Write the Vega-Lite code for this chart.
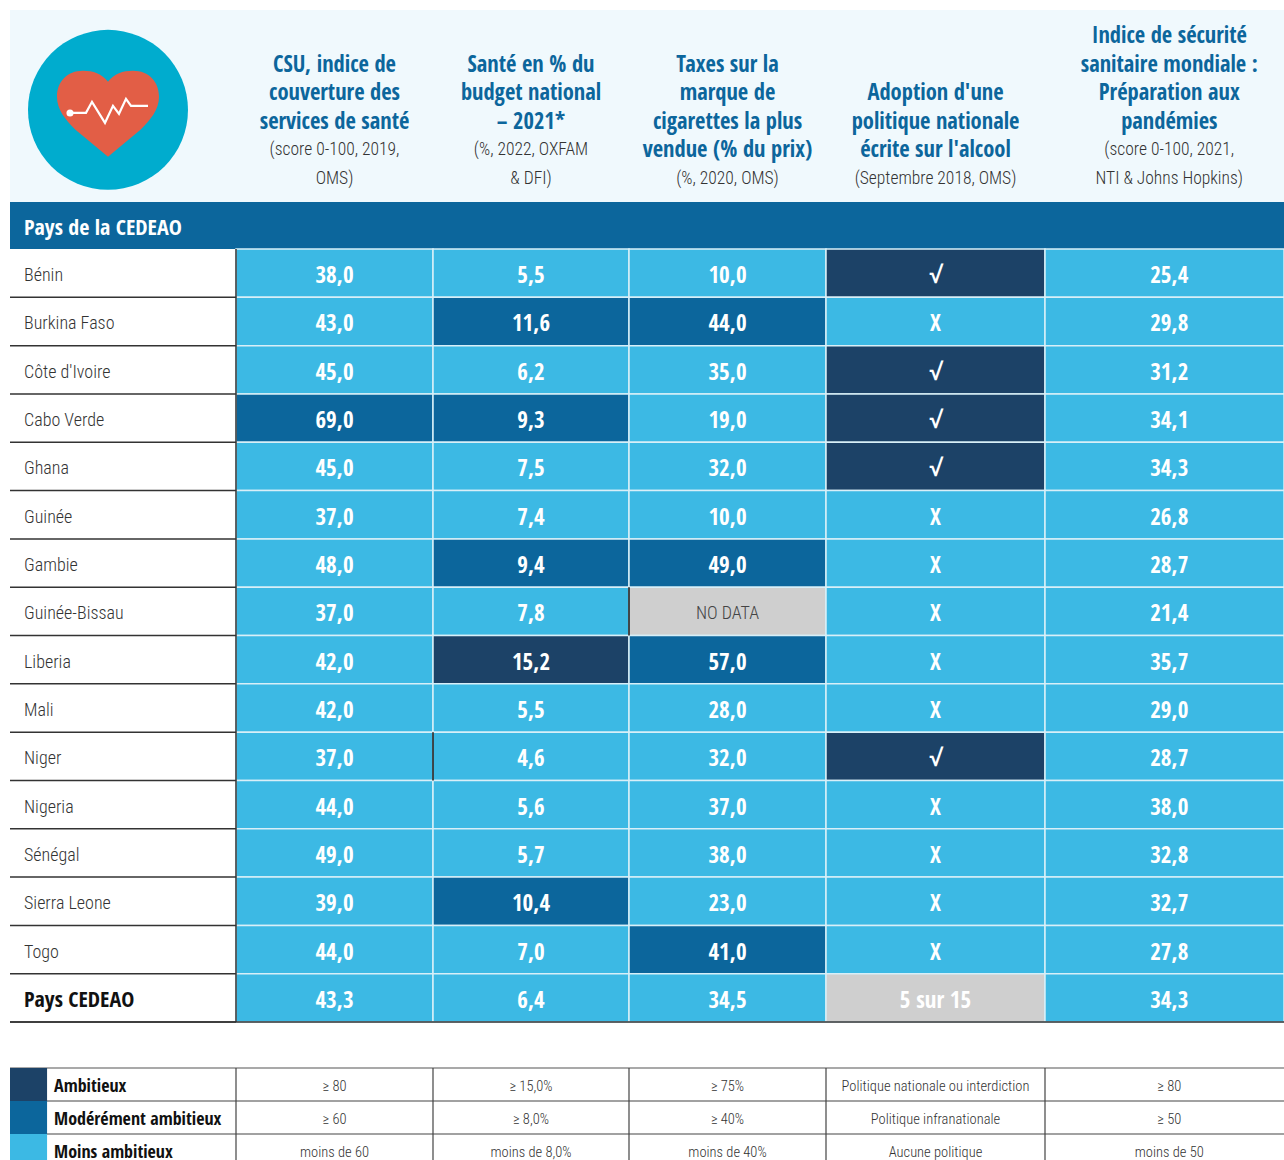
{
"$schema":"https://vega.github.io/schema/vega-lite/v6.json",
"width":1284,"height":1160,"padding":0,"autosize":{"type":"none"},"background":"white",
"config":{"view":{"stroke":null},"axis":{"disable":true},"legend":{"disable":true},"text":{"font":"Roboto Condensed"}},
"datasets":{
"colonnes":[
{"indicateur":"CSU","c0":1,"c1":2,"cm":1.5},
{"indicateur":"Santé","c0":2,"c1":3,"cm":2.5},
{"indicateur":"Taxes","c0":3,"c1":4,"cm":3.5},
{"indicateur":"Alcool","c0":4,"c1":5,"cm":4.5},
{"indicateur":"Sécurité","c0":5,"c1":6,"cm":5.52}
],
"rangs":[{"rang":1,"h":0.135},{"rang":2,"h":0.284},{"rang":3,"h":0.433},{"rang":4,"h":0.582},{"rang":5,"h":0.731},{"rang":6,"h":0.88}],
"entetes":[
{"indicateur":"CSU","rang":2,"style":"titre","texte":"CSU, indice de"},
{"indicateur":"CSU","rang":3,"style":"titre","texte":"couverture des"},
{"indicateur":"CSU","rang":4,"style":"titre","texte":"services de santé"},
{"indicateur":"CSU","rang":5,"style":"source","texte":"(score 0-100, 2019,"},
{"indicateur":"CSU","rang":6,"style":"source","texte":"OMS)"},
{"indicateur":"Santé","rang":2,"style":"titre","texte":"Santé en % du"},
{"indicateur":"Santé","rang":3,"style":"titre","texte":"budget national"},
{"indicateur":"Santé","rang":4,"style":"titre","texte":"– 2021*"},
{"indicateur":"Santé","rang":5,"style":"source","texte":"(%, 2022, OXFAM"},
{"indicateur":"Santé","rang":6,"style":"source","texte":"& DFI)"},
{"indicateur":"Taxes","rang":2,"style":"titre","texte":"Taxes sur la"},
{"indicateur":"Taxes","rang":3,"style":"titre","texte":"marque de"},
{"indicateur":"Taxes","rang":4,"style":"titre","texte":"cigarettes la plus"},
{"indicateur":"Taxes","rang":5,"style":"titre","texte":"vendue (% du prix)"},
{"indicateur":"Taxes","rang":6,"style":"source","texte":"(%, 2020, OMS)"},
{"indicateur":"Alcool","rang":3,"style":"titre","texte":"Adoption d'une"},
{"indicateur":"Alcool","rang":4,"style":"titre","texte":"politique nationale"},
{"indicateur":"Alcool","rang":5,"style":"titre","texte":"écrite sur l'alcool"},
{"indicateur":"Alcool","rang":6,"style":"source","texte":"(Septembre 2018, OMS)"},
{"indicateur":"Sécurité","rang":1,"style":"titre","texte":"Indice de sécurité"},
{"indicateur":"Sécurité","rang":2,"style":"titre","texte":"sanitaire mondiale :"},
{"indicateur":"Sécurité","rang":3,"style":"titre","texte":"Préparation aux"},
{"indicateur":"Sécurité","rang":4,"style":"titre","texte":"pandémies"},
{"indicateur":"Sécurité","rang":5,"style":"source","texte":"(score 0-100, 2021,"},
{"indicateur":"Sécurité","rang":6,"style":"source","texte":"NTI & Johns Hopkins)"}
],
"lignes":[
{"pays":"Bénin","groupe":"pays","l0":2,"l1":3,"lm":2.5},
{"pays":"Burkina Faso","groupe":"pays","l0":3,"l1":4,"lm":3.5},
{"pays":"Côte d'Ivoire","groupe":"pays","l0":4,"l1":5,"lm":4.5},
{"pays":"Cabo Verde","groupe":"pays","l0":5,"l1":6,"lm":5.5},
{"pays":"Ghana","groupe":"pays","l0":6,"l1":7,"lm":6.5},
{"pays":"Guinée","groupe":"pays","l0":7,"l1":8,"lm":7.5},
{"pays":"Gambie","groupe":"pays","l0":8,"l1":9,"lm":8.5},
{"pays":"Guinée-Bissau","groupe":"pays","l0":9,"l1":10,"lm":9.5},
{"pays":"Liberia","groupe":"pays","l0":10,"l1":11,"lm":10.5},
{"pays":"Mali","groupe":"pays","l0":11,"l1":12,"lm":11.5},
{"pays":"Niger","groupe":"pays","l0":12,"l1":13,"lm":12.5},
{"pays":"Nigeria","groupe":"pays","l0":13,"l1":14,"lm":13.5},
{"pays":"Sénégal","groupe":"pays","l0":14,"l1":15,"lm":14.5},
{"pays":"Sierra Leone","groupe":"pays","l0":15,"l1":16,"lm":15.5},
{"pays":"Togo","groupe":"pays","l0":16,"l1":17,"lm":16.5},
{"pays":"Pays CEDEAO","groupe":"total","l0":17,"l1":18,"lm":17.5},
{"pays":"Ambitieux","groupe":"cle","l0":19,"l1":20,"lm":19.5},
{"pays":"Modérément ambitieux","groupe":"cle","l0":20,"l1":21,"lm":20.5},
{"pays":"Moins ambitieux","groupe":"cle","l0":21,"l1":22,"lm":21.5}
],
"filets":[{"pays":"Niger","indicateur":"Santé"},{"pays":"Guinée-Bissau","indicateur":"Taxes"}],
"legende":[
{"pays":"Ambitieux","indicateur":"CSU","texte":"≥ 80"},
{"pays":"Ambitieux","indicateur":"Santé","texte":"≥ 15,0%"},
{"pays":"Ambitieux","indicateur":"Taxes","texte":"≥ 75%"},
{"pays":"Ambitieux","indicateur":"Alcool","texte":"Politique nationale ou interdiction"},
{"pays":"Ambitieux","indicateur":"Sécurité","texte":"≥ 80"},
{"pays":"Modérément ambitieux","indicateur":"CSU","texte":"≥ 60"},
{"pays":"Modérément ambitieux","indicateur":"Santé","texte":"≥ 8,0%"},
{"pays":"Modérément ambitieux","indicateur":"Taxes","texte":"≥ 40%"},
{"pays":"Modérément ambitieux","indicateur":"Alcool","texte":"Politique infranationale"},
{"pays":"Modérément ambitieux","indicateur":"Sécurité","texte":"≥ 50"},
{"pays":"Moins ambitieux","indicateur":"CSU","texte":"moins de 60"},
{"pays":"Moins ambitieux","indicateur":"Santé","texte":"moins de 8,0%"},
{"pays":"Moins ambitieux","indicateur":"Taxes","texte":"moins de 40%"},
{"pays":"Moins ambitieux","indicateur":"Alcool","texte":"Aucune politique"},
{"pays":"Moins ambitieux","indicateur":"Sécurité","texte":"moins de 50"}
],
"cellules":[
{"pays":"Bénin","indicateur":"CSU","valeur":"38,0","niveau":"Moins ambitieux"},
{"pays":"Bénin","indicateur":"Santé","valeur":"5,5","niveau":"Moins ambitieux"},
{"pays":"Bénin","indicateur":"Taxes","valeur":"10,0","niveau":"Moins ambitieux"},
{"pays":"Bénin","indicateur":"Alcool","valeur":"√","niveau":"Ambitieux"},
{"pays":"Bénin","indicateur":"Sécurité","valeur":"25,4","niveau":"Moins ambitieux"},
{"pays":"Burkina Faso","indicateur":"CSU","valeur":"43,0","niveau":"Moins ambitieux"},
{"pays":"Burkina Faso","indicateur":"Santé","valeur":"11,6","niveau":"Modérément ambitieux"},
{"pays":"Burkina Faso","indicateur":"Taxes","valeur":"44,0","niveau":"Modérément ambitieux"},
{"pays":"Burkina Faso","indicateur":"Alcool","valeur":"X","niveau":"Moins ambitieux"},
{"pays":"Burkina Faso","indicateur":"Sécurité","valeur":"29,8","niveau":"Moins ambitieux"},
{"pays":"Côte d'Ivoire","indicateur":"CSU","valeur":"45,0","niveau":"Moins ambitieux"},
{"pays":"Côte d'Ivoire","indicateur":"Santé","valeur":"6,2","niveau":"Moins ambitieux"},
{"pays":"Côte d'Ivoire","indicateur":"Taxes","valeur":"35,0","niveau":"Moins ambitieux"},
{"pays":"Côte d'Ivoire","indicateur":"Alcool","valeur":"√","niveau":"Ambitieux"},
{"pays":"Côte d'Ivoire","indicateur":"Sécurité","valeur":"31,2","niveau":"Moins ambitieux"},
{"pays":"Cabo Verde","indicateur":"CSU","valeur":"69,0","niveau":"Modérément ambitieux"},
{"pays":"Cabo Verde","indicateur":"Santé","valeur":"9,3","niveau":"Modérément ambitieux"},
{"pays":"Cabo Verde","indicateur":"Taxes","valeur":"19,0","niveau":"Moins ambitieux"},
{"pays":"Cabo Verde","indicateur":"Alcool","valeur":"√","niveau":"Ambitieux"},
{"pays":"Cabo Verde","indicateur":"Sécurité","valeur":"34,1","niveau":"Moins ambitieux"},
{"pays":"Ghana","indicateur":"CSU","valeur":"45,0","niveau":"Moins ambitieux"},
{"pays":"Ghana","indicateur":"Santé","valeur":"7,5","niveau":"Moins ambitieux"},
{"pays":"Ghana","indicateur":"Taxes","valeur":"32,0","niveau":"Moins ambitieux"},
{"pays":"Ghana","indicateur":"Alcool","valeur":"√","niveau":"Ambitieux"},
{"pays":"Ghana","indicateur":"Sécurité","valeur":"34,3","niveau":"Moins ambitieux"},
{"pays":"Guinée","indicateur":"CSU","valeur":"37,0","niveau":"Moins ambitieux"},
{"pays":"Guinée","indicateur":"Santé","valeur":"7,4","niveau":"Moins ambitieux"},
{"pays":"Guinée","indicateur":"Taxes","valeur":"10,0","niveau":"Moins ambitieux"},
{"pays":"Guinée","indicateur":"Alcool","valeur":"X","niveau":"Moins ambitieux"},
{"pays":"Guinée","indicateur":"Sécurité","valeur":"26,8","niveau":"Moins ambitieux"},
{"pays":"Gambie","indicateur":"CSU","valeur":"48,0","niveau":"Moins ambitieux"},
{"pays":"Gambie","indicateur":"Santé","valeur":"9,4","niveau":"Modérément ambitieux"},
{"pays":"Gambie","indicateur":"Taxes","valeur":"49,0","niveau":"Modérément ambitieux"},
{"pays":"Gambie","indicateur":"Alcool","valeur":"X","niveau":"Moins ambitieux"},
{"pays":"Gambie","indicateur":"Sécurité","valeur":"28,7","niveau":"Moins ambitieux"},
{"pays":"Guinée-Bissau","indicateur":"CSU","valeur":"37,0","niveau":"Moins ambitieux"},
{"pays":"Guinée-Bissau","indicateur":"Santé","valeur":"7,8","niveau":"Moins ambitieux"},
{"pays":"Guinée-Bissau","indicateur":"Taxes","valeur":"NO DATA","niveau":"Sans donnée"},
{"pays":"Guinée-Bissau","indicateur":"Alcool","valeur":"X","niveau":"Moins ambitieux"},
{"pays":"Guinée-Bissau","indicateur":"Sécurité","valeur":"21,4","niveau":"Moins ambitieux"},
{"pays":"Liberia","indicateur":"CSU","valeur":"42,0","niveau":"Moins ambitieux"},
{"pays":"Liberia","indicateur":"Santé","valeur":"15,2","niveau":"Ambitieux"},
{"pays":"Liberia","indicateur":"Taxes","valeur":"57,0","niveau":"Modérément ambitieux"},
{"pays":"Liberia","indicateur":"Alcool","valeur":"X","niveau":"Moins ambitieux"},
{"pays":"Liberia","indicateur":"Sécurité","valeur":"35,7","niveau":"Moins ambitieux"},
{"pays":"Mali","indicateur":"CSU","valeur":"42,0","niveau":"Moins ambitieux"},
{"pays":"Mali","indicateur":"Santé","valeur":"5,5","niveau":"Moins ambitieux"},
{"pays":"Mali","indicateur":"Taxes","valeur":"28,0","niveau":"Moins ambitieux"},
{"pays":"Mali","indicateur":"Alcool","valeur":"X","niveau":"Moins ambitieux"},
{"pays":"Mali","indicateur":"Sécurité","valeur":"29,0","niveau":"Moins ambitieux"},
{"pays":"Niger","indicateur":"CSU","valeur":"37,0","niveau":"Moins ambitieux"},
{"pays":"Niger","indicateur":"Santé","valeur":"4,6","niveau":"Moins ambitieux"},
{"pays":"Niger","indicateur":"Taxes","valeur":"32,0","niveau":"Moins ambitieux"},
{"pays":"Niger","indicateur":"Alcool","valeur":"√","niveau":"Ambitieux"},
{"pays":"Niger","indicateur":"Sécurité","valeur":"28,7","niveau":"Moins ambitieux"},
{"pays":"Nigeria","indicateur":"CSU","valeur":"44,0","niveau":"Moins ambitieux"},
{"pays":"Nigeria","indicateur":"Santé","valeur":"5,6","niveau":"Moins ambitieux"},
{"pays":"Nigeria","indicateur":"Taxes","valeur":"37,0","niveau":"Moins ambitieux"},
{"pays":"Nigeria","indicateur":"Alcool","valeur":"X","niveau":"Moins ambitieux"},
{"pays":"Nigeria","indicateur":"Sécurité","valeur":"38,0","niveau":"Moins ambitieux"},
{"pays":"Sénégal","indicateur":"CSU","valeur":"49,0","niveau":"Moins ambitieux"},
{"pays":"Sénégal","indicateur":"Santé","valeur":"5,7","niveau":"Moins ambitieux"},
{"pays":"Sénégal","indicateur":"Taxes","valeur":"38,0","niveau":"Moins ambitieux"},
{"pays":"Sénégal","indicateur":"Alcool","valeur":"X","niveau":"Moins ambitieux"},
{"pays":"Sénégal","indicateur":"Sécurité","valeur":"32,8","niveau":"Moins ambitieux"},
{"pays":"Sierra Leone","indicateur":"CSU","valeur":"39,0","niveau":"Moins ambitieux"},
{"pays":"Sierra Leone","indicateur":"Santé","valeur":"10,4","niveau":"Modérément ambitieux"},
{"pays":"Sierra Leone","indicateur":"Taxes","valeur":"23,0","niveau":"Moins ambitieux"},
{"pays":"Sierra Leone","indicateur":"Alcool","valeur":"X","niveau":"Moins ambitieux"},
{"pays":"Sierra Leone","indicateur":"Sécurité","valeur":"32,7","niveau":"Moins ambitieux"},
{"pays":"Togo","indicateur":"CSU","valeur":"44,0","niveau":"Moins ambitieux"},
{"pays":"Togo","indicateur":"Santé","valeur":"7,0","niveau":"Moins ambitieux"},
{"pays":"Togo","indicateur":"Taxes","valeur":"41,0","niveau":"Modérément ambitieux"},
{"pays":"Togo","indicateur":"Alcool","valeur":"X","niveau":"Moins ambitieux"},
{"pays":"Togo","indicateur":"Sécurité","valeur":"27,8","niveau":"Moins ambitieux"},
{"pays":"Pays CEDEAO","indicateur":"CSU","valeur":"43,3","niveau":"Moins ambitieux"},
{"pays":"Pays CEDEAO","indicateur":"Santé","valeur":"6,4","niveau":"Moins ambitieux"},
{"pays":"Pays CEDEAO","indicateur":"Taxes","valeur":"34,5","niveau":"Moins ambitieux"},
{"pays":"Pays CEDEAO","indicateur":"Alcool","valeur":"5 sur 15","niveau":"Sans donnée"},
{"pays":"Pays CEDEAO","indicateur":"Sécurité","valeur":"34,3","niveau":"Moins ambitieux"}
]
},
"layer":[
{"data":{"values":[{"zone":"en-tête"}]},"mark":{"type":"rect","color":"#f0f9fd"},
 "encoding":{
  "x":{"datum":0,"type":"quantitative","scale":{"domain":[0,1,2,3,4,5,6],"range":[10,236,433,629,826,1045,1284],"zero":false,"nice":false}},
  "x2":{"datum":6},
  "y":{"datum":0,"type":"quantitative","scale":{"domain":[0,1,2,18,19,22],"range":[10,202,249,1022,1068,1167],"zero":false,"nice":false}},
  "y2":{"datum":1}}},
{"data":{"values":[{"zone":"bandeau"}]},"mark":{"type":"rect","color":"#0c669c"},
 "encoding":{"x":{"datum":0,"type":"quantitative"},"x2":{"datum":6},"y":{"datum":1,"type":"quantitative"},"y2":{"datum":2}}},
{"data":{"values":[{"titre":"Pays de la CEDEAO"}]},"mark":{"type":"text","align":"left","baseline":"middle","font":"Open Sans Condensed","fontWeight":"bold","fontSize":22,"color":"white","dy":2},
 "encoding":{"x":{"datum":0.062,"type":"quantitative"},"y":{"datum":1.5,"type":"quantitative"},"text":{"field":"titre"}}},
{"data":{"name":"cellules"},
 "transform":[
  {"lookup":"indicateur","from":{"data":{"name":"colonnes"},"key":"indicateur","fields":["c0","c1","cm"]}},
  {"lookup":"pays","from":{"data":{"name":"lignes"},"key":"pays","fields":["l0","l1","lm"]}}],
 "layer":[
  {"mark":{"type":"rect","stroke":"#d8eff8","strokeWidth":1.5},
   "encoding":{"x":{"field":"c0","type":"quantitative"},"x2":{"field":"c1"},"y":{"field":"l0","type":"quantitative"},"y2":{"field":"l1"},
    "color":{"field":"niveau","type":"nominal","scale":{"domain":["Ambitieux","Modérément ambitieux","Moins ambitieux","Sans donnée"],"range":["#1c4267","#0c669c","#3cb9e4","#cfcfcf"]}}}},
  {"transform":[{"filter":"datum.valeur !== 'NO DATA'"}],
   "mark":{"type":"text","align":"center","baseline":"middle","font":"Open Sans Condensed","fontWeight":"bold","fontSize":23,"color":"white","dy":3},
   "encoding":{"x":{"field":"cm","type":"quantitative"},"y":{"field":"lm","type":"quantitative"},"text":{"field":"valeur"}}},
  {"transform":[{"filter":"datum.valeur === 'NO DATA'"}],
   "mark":{"type":"text","align":"center","baseline":"middle","fontSize":18,"fontWeight":300,"color":"#444444","dy":3},
   "encoding":{"x":{"field":"cm","type":"quantitative"},"y":{"field":"lm","type":"quantitative"},"text":{"field":"valeur"}}}
 ]},
{"data":{"name":"lignes"},"transform":[{"filter":"datum.groupe === 'pays'"}],
 "mark":{"type":"text","align":"left","baseline":"middle","fontSize":18,"fontWeight":300,"color":"#333333","dy":3},
 "encoding":{"x":{"datum":0.062,"type":"quantitative"},"y":{"field":"lm","type":"quantitative"},"text":{"field":"pays"}}},
{"data":{"name":"lignes"},"transform":[{"filter":"datum.groupe === 'total'"}],
 "mark":{"type":"text","align":"left","baseline":"middle","font":"Open Sans Condensed","fontSize":22,"fontWeight":"bold","color":"#111111","dy":2},
 "encoding":{"x":{"datum":0.062,"type":"quantitative"},"y":{"field":"lm","type":"quantitative"},"text":{"field":"pays"}}},
{"data":{"name":"lignes"},"transform":[{"filter":"datum.groupe !== 'cle'"}],
 "mark":{"type":"rule","color":"#333333","strokeWidth":1.5},
 "encoding":{"x":{"datum":0,"type":"quantitative"},"x2":{"datum":1},"y":{"field":"l1","type":"quantitative"}}},
{"data":{"values":[{"filet":"vertical"}]},"mark":{"type":"rule","color":"#333333","strokeWidth":1.5},
 "encoding":{"x":{"datum":1,"type":"quantitative"},"y":{"datum":2,"type":"quantitative"},"y2":{"datum":18}}},
{"data":{"values":[{"filet":"bas"}]},"mark":{"type":"rule","color":"#333333","strokeWidth":1.5},
 "encoding":{"x":{"datum":0,"type":"quantitative"},"x2":{"datum":6},"y":{"datum":18,"type":"quantitative"}}},
{"data":{"name":"filets"},
 "transform":[
  {"lookup":"indicateur","from":{"data":{"name":"colonnes"},"key":"indicateur","fields":["c0"]}},
  {"lookup":"pays","from":{"data":{"name":"lignes"},"key":"pays","fields":["l0","l1"]}}],
 "mark":{"type":"rule","color":"#111111","strokeWidth":1.5},
 "encoding":{"x":{"field":"c0","type":"quantitative"},"y":{"field":"l0","type":"quantitative"},"y2":{"field":"l1"}}},
{"data":{"name":"entetes"},
 "transform":[
  {"lookup":"indicateur","from":{"data":{"name":"colonnes"},"key":"indicateur","fields":["cm"]}},
  {"lookup":"rang","from":{"data":{"name":"rangs"},"key":"rang","fields":["h"]}}],
 "layer":[
  {"transform":[{"filter":"datum.style === 'titre'"}],
   "mark":{"type":"text","align":"center","baseline":"middle","font":"Open Sans Condensed","fontWeight":"bold","fontSize":22.5,"color":"#0c669c"},
   "encoding":{"x":{"field":"cm","type":"quantitative"},"y":{"field":"h","type":"quantitative"},"text":{"field":"texte"}}},
  {"transform":[{"filter":"datum.style === 'source'"}],
   "mark":{"type":"text","align":"center","baseline":"middle","fontSize":17.5,"fontWeight":300,"color":"#333333"},
   "encoding":{"x":{"field":"cm","type":"quantitative"},"y":{"field":"h","type":"quantitative"},"text":{"field":"texte"}}}
 ]},
{"data":{"values":[{"icone":"disque"}]},"mark":{"type":"point","shape":"circle","filled":true,"opacity":1,"size":25600,"color":"#00acce"},
 "encoding":{"x":{"datum":0.4336,"type":"quantitative"},"y":{"datum":0.52,"type":"quantitative"}}},
{"data":{"values":[{"icone":"coeur"}]},"mark":{"type":"point","filled":true,"opacity":1,"size":10000,"color":"#e25e46",
  "shape":"M0 -0.56 C0.12 -0.72 0.3 -0.78 0.5 -0.78 C0.82 -0.78 1.02 -0.56 1.02 -0.26 C1.02 0 0.85 0.2 0.65 0.4 L0 0.94 L-0.65 0.4 C-0.85 0.2 -1.02 0 -1.02 -0.26 C-1.02 -0.56 -0.82 -0.78 -0.5 -0.78 C-0.3 -0.78 -0.12 -0.72 0 -0.56 Z"},
 "encoding":{"x":{"datum":0.4336,"type":"quantitative"},"y":{"datum":0.52,"type":"quantitative"}}},
{"data":{"values":[{"icone":"pouls"}]},"mark":{"type":"point","filled":false,"opacity":1,"size":10000,"stroke":"white","strokeWidth":2.2,
  "shape":"M-0.76 0.06 L-0.44 0.06 L-0.32 -0.16 L-0.06 0.26 L0.1 -0.08 L0.22 0.08 L0.36 -0.22 L0.46 -0.08 L0.8 -0.08"},
 "encoding":{"x":{"datum":0.4336,"type":"quantitative"},"y":{"datum":0.52,"type":"quantitative"}}},
{"data":{"values":[{"icone":"point"}]},"mark":{"type":"point","shape":"circle","filled":true,"opacity":1,"size":50,"color":"white"},
 "encoding":{"x":{"datum":0.2655,"type":"quantitative"},"y":{"datum":0.536,"type":"quantitative"}}},
{"data":{"values":[{"filet":"haut"}]},"mark":{"type":"rule","color":"#555555","strokeWidth":1.2},
 "encoding":{"x":{"datum":0,"type":"quantitative"},"x2":{"datum":6},"y":{"datum":19,"type":"quantitative"}}},
{"data":{"name":"lignes"},"transform":[{"filter":"datum.groupe === 'cle' && datum.l1 < 22"}],
 "mark":{"type":"rule","color":"#444444","strokeWidth":1.2},
 "encoding":{"x":{"datum":0,"type":"quantitative"},"x2":{"datum":6},"y":{"field":"l1","type":"quantitative"}}},
{"data":{"name":"colonnes"},"mark":{"type":"rule","color":"#444444","strokeWidth":1.2},
 "encoding":{"x":{"field":"c0","type":"quantitative"},"y":{"datum":19,"type":"quantitative"},"y2":{"datum":22}}},
{"data":{"name":"lignes"},"transform":[{"filter":"datum.groupe === 'cle'"}],
 "mark":{"type":"rect"},
 "encoding":{"x":{"datum":0,"type":"quantitative"},"x2":{"datum":0.164},"y":{"field":"l0","type":"quantitative"},"y2":{"field":"l1"},
  "color":{"field":"pays","type":"nominal"}}},
{"data":{"name":"lignes"},"transform":[{"filter":"datum.groupe === 'cle'"}],
 "mark":{"type":"text","align":"left","baseline":"middle","font":"Open Sans Condensed","fontSize":18,"fontWeight":"bold","color":"#111111","dy":2},
 "encoding":{"x":{"datum":0.195,"type":"quantitative"},"y":{"field":"lm","type":"quantitative"},"text":{"field":"pays"}}},
{"data":{"name":"legende"},
 "transform":[
  {"lookup":"indicateur","from":{"data":{"name":"colonnes"},"key":"indicateur","fields":["cm"]}},
  {"lookup":"pays","from":{"data":{"name":"lignes"},"key":"pays","fields":["lm"]}}],
 "mark":{"type":"text","align":"center","baseline":"middle","fontSize":14.5,"fontWeight":300,"color":"#333333","dy":2},
 "encoding":{"x":{"field":"cm","type":"quantitative"},"y":{"field":"lm","type":"quantitative"},"text":{"field":"texte"}}}
]
}
